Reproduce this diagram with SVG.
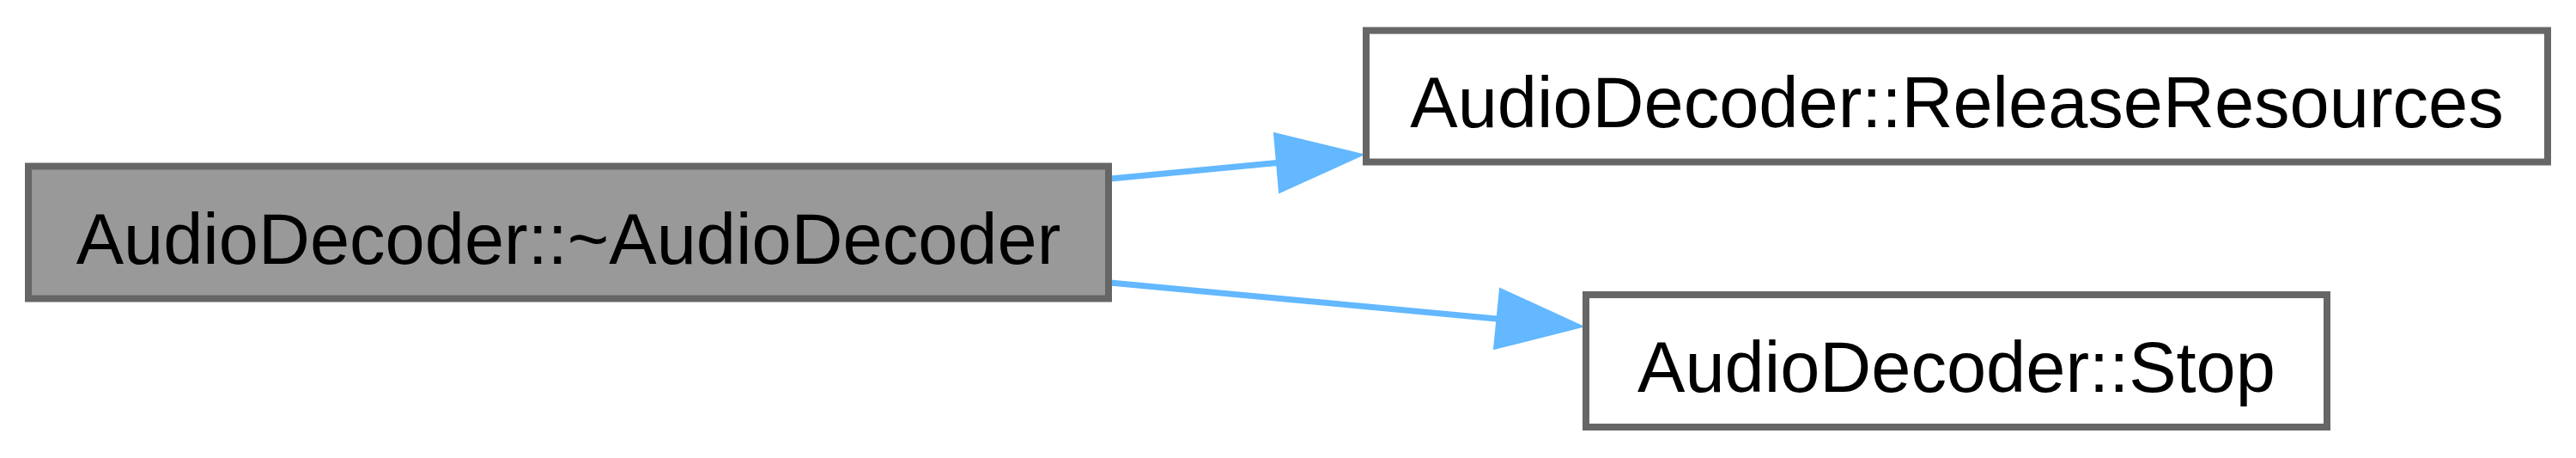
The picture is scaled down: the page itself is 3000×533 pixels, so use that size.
<svg xmlns="http://www.w3.org/2000/svg" width="3000" height="533" viewBox="0 0 3000 533">
<style>
.node rect{stroke:#666666;stroke-width:8}
.node text{font-family:"Liberation Sans",Arial,sans-serif;font-size:83px;fill:#000000;text-anchor:middle}
.edge path{fill:none;stroke:#63b8ff;stroke-width:7}
.edge polygon{fill:#63b8ff;stroke:#63b8ff;stroke-width:2}
</style>
<rect x="0" y="0" width="3000" height="533" fill="#ffffff"/>
<g id="connectors">
<g class="edge" id="edge1">
<path d="M1293,208 L1487,189.5"/>
<polygon points="1587,180 1484,155 1490,224"/>
</g>
<g class="edge" id="edge2">
<path d="M1293,329 L1743,371"/>
<polygon points="1843,380 1747,336 1740,406"/>
</g>
</g>
<g class="node" id="node1">
<rect x="33" y="193.5" width="1258" height="154" fill="#999999"/>
<text x="662" y="306.5">AudioDecoder::~AudioDecoder</text>
</g>
<g class="node" id="node2">
<rect x="1591" y="35.5" width="1376" height="153" fill="#ffffff"/>
<text x="2279" y="148">AudioDecoder::ReleaseResources</text>
</g>
<g class="node" id="node3">
<rect x="1847" y="343" width="863" height="154" fill="#ffffff"/>
<text x="2278.5" y="456">AudioDecoder::Stop</text>
</g>
</svg>
